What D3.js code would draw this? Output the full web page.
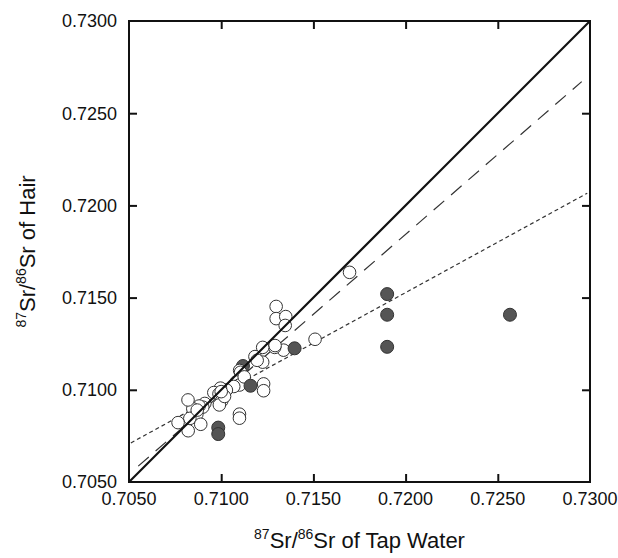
<!DOCTYPE html>
<html>
<head>
<meta charset="utf-8">
<script src="https://cdn.jsdelivr.net/npm/d3@7"></script>
<style>
  body { margin: 0; background: #fff; }
  text { font-family: "Liberation Sans", Arial, sans-serif; fill: #111; }
</style>
</head>
<body>
<div id="chart"></div>
<script>
  // 87Sr/86Sr of tap water (x) vs hair (y)
  const openX = [0.71696, 0.71509, 0.71298, 0.71298, 0.71350, 0.71347, 0.71338, 0.71290, 0.71292, 0.71225,
    0.71225, 0.71183, 0.71195, 0.71100, 0.71105, 0.71082, 0.71099, 0.71068, 0.71125, 0.71230,
    0.71230, 0.71099, 0.71099, 0.71028, 0.70996, 0.70960, 0.70988, 0.71003, 0.70990, 0.71018,
    0.70911, 0.70900, 0.70880, 0.70846, 0.70820, 0.70868, 0.70830, 0.70889, 0.70766, 0.70821,
    0.71000, 0.70870];
  const openY = [0.71637, 0.71274, 0.71452, 0.71386, 0.71397, 0.71349, 0.71215, 0.71230, 0.71240, 0.71230,
    0.71150, 0.71180, 0.71160, 0.71105, 0.71095, 0.71042, 0.71026, 0.71018, 0.71070, 0.71032,
    0.70995, 0.70868, 0.70846, 0.70999, 0.71009, 0.70985, 0.70978, 0.70940, 0.70918, 0.70964,
    0.70926, 0.70906, 0.70912, 0.70897, 0.70945, 0.70868, 0.70845, 0.70813, 0.70822, 0.70778,
    0.70990, 0.70890];

  const filledX = [0.71900, 0.71900, 0.71900, 0.72566, 0.71398, 0.71159, 0.71118, 0.70984, 0.70984];
  const filledY = [0.71519, 0.71407, 0.71233, 0.71407, 0.71225, 0.71022, 0.71129, 0.70795, 0.70760];
  // filled points that sit behind the open circles in the figure
  const filledBehind = [6];

  // line end points
  const oneToOneX = [0.7050, 0.7300];
  const oneToOneY = [0.7050, 0.7300];
  const dashedX = [0.7055, 0.72955];
  const dashedY = [0.70586, 0.72671];
  const dottedX = [0.7051, 0.72985];
  const dottedY = [0.70712, 0.72066];

  const tickValues = [0.7050, 0.7100, 0.7150, 0.7200, 0.7250, 0.7300];
  const domain = [0.7050, 0.7300];

  const width = 618, height = 558;
  const margin = { left: 129, top: 21, right: 28, bottom: 76 };
  const innerW = width - margin.left - margin.right;
  const innerH = height - margin.top - margin.bottom;

  ////////////////////////////////////////////////////////////
  ///////////////////////// Scales ///////////////////////////
  ////////////////////////////////////////////////////////////

  const x = d3.scaleLinear().domain(domain).range([0, innerW]);
  const y = d3.scaleLinear().domain(domain).range([innerH, 0]);

  const svg = d3.select("#chart").append("svg")
    .attr("width", width)
    .attr("height", height);

  const g = svg.append("g")
    .attr("transform", `translate(${margin.left},${margin.top})`);

  const line = d3.line().x(d => x(d[0])).y(d => y(d[1]));

  ////////////////////////////////////////////////////////////
  ///////////////////// Fitted lines /////////////////////////
  ////////////////////////////////////////////////////////////

  g.append("path")
    .attr("d", line(d3.zip(dashedX, dashedY)))
    .attr("fill", "none")
    .attr("stroke", "#333")
    .attr("stroke-width", 1.2)
    .attr("stroke-dasharray", "14,9");

  g.append("path")
    .attr("d", line(d3.zip(dottedX, dottedY)))
    .attr("fill", "none")
    .attr("stroke", "#333")
    .attr("stroke-width", 1.2)
    .attr("stroke-dasharray", "4,3");

  ////////////////////////////////////////////////////////////
  ///////////////////////// Points ///////////////////////////
  ////////////////////////////////////////////////////////////

  const filled = d3.zip(filledX, filledY);

  function drawFilled(data, cls) {
    g.selectAll("circle." + cls)
      .data(data)
      .enter().append("circle")
      .attr("class", cls)
      .attr("cx", d => x(d[0]))
      .attr("cy", d => y(d[1]))
      .attr("r", 6.5)
      .attr("fill", "#555")
      .attr("stroke", "#333")
      .attr("stroke-width", 1);
  }

  drawFilled(filled.filter((_, i) => filledBehind.includes(i)), "filled-back");

  g.selectAll("circle.open")
    .data(d3.zip(openX, openY))
    .enter().append("circle")
    .attr("class", "open")
    .attr("cx", d => x(d[0]))
    .attr("cy", d => y(d[1]))
    .attr("r", 6.3)
    .attr("fill", "#fff")
    .attr("stroke", "#333")
    .attr("stroke-width", 1);

  drawFilled(filled.filter((_, i) => !filledBehind.includes(i)), "filled");

  // 1:1 line drawn over the circles
  g.append("path")
    .attr("d", line(d3.zip(oneToOneX, oneToOneY)))
    .attr("fill", "none")
    .attr("stroke", "#111")
    .attr("stroke-width", 2.2);

  ////////////////////////////////////////////////////////////
  ///////////////////////// Axes /////////////////////////////
  ////////////////////////////////////////////////////////////

  const innerTicks = tickValues.slice(1, -1);

  g.append("g")
    .attr("transform", `translate(0,${innerH})`)
    .call(d3.axisTop(x).tickValues(innerTicks).tickSize(8).tickFormat(""));
  g.append("g")
    .call(d3.axisBottom(x).tickValues(innerTicks).tickSize(8).tickFormat(""));
  g.append("g")
    .call(d3.axisRight(y).tickValues(innerTicks).tickSize(8).tickFormat(""));
  g.append("g")
    .attr("transform", `translate(${innerW},0)`)
    .call(d3.axisLeft(y).tickValues(innerTicks).tickSize(8).tickFormat(""));

  g.selectAll(".domain").remove();
  g.selectAll(".tick line").attr("stroke", "#111").attr("stroke-width", 2);

  g.append("rect")
    .attr("width", innerW)
    .attr("height", innerH)
    .attr("fill", "none")
    .attr("stroke", "#111")
    .attr("stroke-width", 2);

  // tick labels
  g.selectAll("text.xlab")
    .data(tickValues)
    .enter().append("text")
    .attr("class", "xlab")
    .attr("x", d => x(d))
    .attr("y", innerH + 23)
    .attr("text-anchor", "middle")
    .style("font-size", "18px")
    .text(d3.format(".4f"));

  g.selectAll("text.ylab")
    .data(tickValues)
    .enter().append("text")
    .attr("class", "ylab")
    .attr("x", -12)
    .attr("y", d => y(d))
    .attr("dy", "0.35em")
    .attr("text-anchor", "end")
    .style("font-size", "18px")
    .text(d3.format(".4f"));

  ////////////////////////////////////////////////////////////
  ///////////////////////// Titles ///////////////////////////
  ////////////////////////////////////////////////////////////

  function isotopeTitle(sel, rest) {
    sel.append("tspan").attr("dy", -9).style("font-size", "14px").text("87");
    sel.append("tspan").attr("dy", 9).text("Sr/");
    sel.append("tspan").attr("dy", -9).style("font-size", "14px").text("86");
    sel.append("tspan").attr("dy", 9).text("Sr " + rest);
  }

  svg.append("text")
    .attr("x", margin.left + innerW / 2)
    .attr("y", 548)
    .attr("text-anchor", "middle")
    .style("font-size", "22px")
    .call(isotopeTitle, "of Tap Water");

  svg.append("text")
    .attr("transform", `translate(35,${margin.top + innerH / 2}) rotate(-90)`)
    .attr("text-anchor", "middle")
    .style("font-size", "22px")
    .call(isotopeTitle, "of Hair");
</script>
</body>
</html>
